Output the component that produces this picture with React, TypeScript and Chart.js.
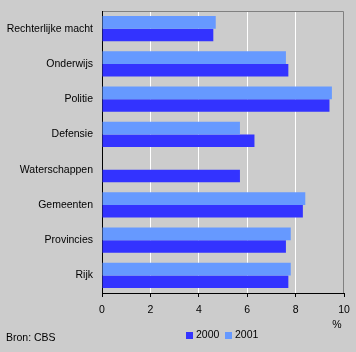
import React, { useEffect, useRef } from 'react';
import { Chart, registerables } from 'chart.js';
Chart.register(...registerables);

const categories = ['Rechterlijke macht', 'Onderwijs', 'Politie', 'Defensie', 'Waterschappen', 'Gemeenten', 'Provincies', 'Rijk'];
const values2000 = [4.6, 7.7, 9.4, 6.3, 5.7, 8.3, 7.6, 7.7];
const values2001 = [4.7, 7.6, 9.5, 5.7, null, 8.4, 7.8, 7.8];
const xTicks = [0, 2, 4, 6, 8, 10];
const seriesLabels = ['2000', '2001'];
const seriesColors = ['#3333ff', '#6699ff'];
const sourceText = 'Bron: CBS';
const unitText = '%';

const FONT = '"Liberation Sans", Arial, sans-serif';
const FS = 10.5;

const zeroPad = (s: any) => {
  s.paddingTop = 0;
  s.paddingBottom = 0;
  s.paddingLeft = 0;
  s.paddingRight = 0;
};

const extras = {
  id: 'extras',
  beforeDraw(chart: any) {
    const { ctx, width, height } = chart;
    ctx.save();
    ctx.fillStyle = '#cccccc';
    ctx.fillRect(0, 0, width, height);
    ctx.restore();
  },
  afterDraw(chart: any) {
    const { ctx } = chart;
    const { left, top, right, bottom } = chart.chartArea;
    ctx.save();
    ctx.strokeStyle = '#808080';
    ctx.lineWidth = 1;
    ctx.beginPath();
    ctx.moveTo(left + 1, top + 0.5);
    ctx.lineTo(right - 0.5, top + 0.5);
    ctx.lineTo(right - 0.5, bottom);
    ctx.stroke();

    ctx.fillStyle = '#000000';
    ctx.font = `${FS}px ${FONT}`;
    ctx.textBaseline = 'middle';
    ctx.textAlign = 'center';
    ctx.fillText(unitText, right - 7, 325.5);
    ctx.textAlign = 'left';
    ctx.fillText(sourceText, 6, 338);

    // legend
    let x = 186;
    seriesLabels.forEach((lab, i) => {
      ctx.fillStyle = seriesColors[i];
      ctx.fillRect(x, 332, 7, 7);
      ctx.fillStyle = '#000000';
      ctx.textAlign = 'left';
      ctx.fillText(lab, x + 10, 335.5);
      x += 39;
    });
    ctx.restore();
  },
};

export default function App() {
  const ref = useRef<HTMLCanvasElement | null>(null);
  useEffect(() => {
    document.body.style.margin = '0';
    const chart = new Chart(ref.current as HTMLCanvasElement, {
      type: 'bar',
      data: {
        labels: categories,
        datasets: [
          { label: seriesLabels[1], data: values2001, backgroundColor: seriesColors[1], borderWidth: 0 },
          { label: seriesLabels[0], data: values2000, backgroundColor: seriesColors[0], borderWidth: 0 },
        ],
      },
      options: {
        indexAxis: 'y',
        animation: false,
        responsive: false,
        maintainAspectRatio: false,
        devicePixelRatio: 1,
        datasets: { bar: { categoryPercentage: 0.71, barPercentage: 1 } },
        layout: { padding: { left: 0, right: 12, top: 11, bottom: 0 } },
        plugins: { legend: { display: false }, tooltip: { enabled: false } },
        scales: {
          x: {
            type: 'linear',
            min: 0,
            max: 10,
            afterBuildTicks: (s: any) => { s.ticks = xTicks.map((v) => ({ value: v })); },
            afterFit: (s: any) => { s.height = 59; zeroPad(s); },
            grid: {
              color: (c: any) => (c.tick && (c.tick.value === 0 || c.tick.value === 10) ? 'rgba(0,0,0,0)' : '#ffffff'),
              tickColor: '#000000',
              tickLength: 4,
              lineWidth: 1,
            },
            border: { display: true, color: '#000000', width: 1 },
            ticks: { color: '#000000', font: { family: FONT, size: FS }, padding: 7, maxRotation: 0 },
          },
          y: {
            type: 'category',
            afterFit: (s: any) => { s.width = 102; zeroPad(s); },
            grid: { display: false, drawTicks: false },
            border: { display: true, color: '#000000', width: 1 },
            ticks: { color: '#000000', font: { family: FONT, size: FS }, padding: 9 },
          },
        },
      },
      plugins: [extras],
    } as any);
    return () => chart.destroy();
  }, []);
  return (
    <div style={{ position: 'absolute', left: 0, top: 0, width: 356, height: 352, background: '#cccccc' }}>
      <canvas ref={ref} width={356} height={352} style={{ display: 'block', width: 356, height: 352 }} />
    </div>
  );
}
